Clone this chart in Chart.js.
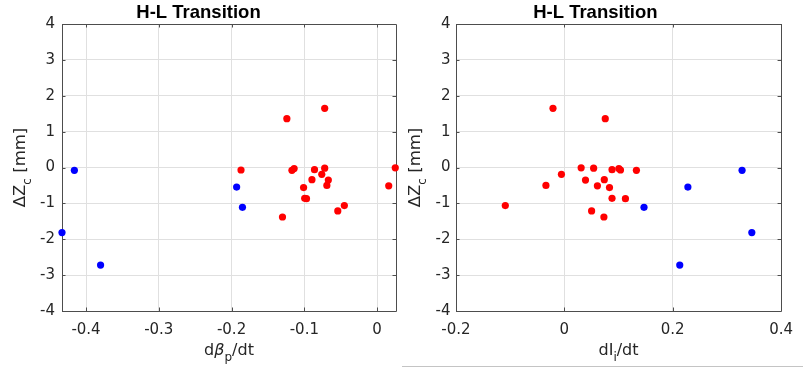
<!DOCTYPE html>
<html>
<head>
<meta charset="utf-8">
<script src="https://cdn.jsdelivr.net/npm/chart.js@4.4.1/dist/chart.umd.min.js"></script>
<style>
  html, body { margin: 0; padding: 0; background: #ffffff; }
  #wrap { position: relative; width: 803px; height: 370px; overflow: hidden; background: #fff; }
  #cL { position: absolute; left: 0; top: 0; }
  #cR { position: absolute; left: 400px; top: 0; }
  #rule { position: absolute; left: 402px; top: 366px; width: 401px; height: 1px; background: #c4c4c4; }
</style>
</head>
<body>
<div id="wrap">
  <canvas id="cL" width="400" height="370"></canvas>
  <canvas id="cR" width="403" height="370"></canvas>
  <div id="rule"></div>
</div>
<script>
// ---- data ----
const titleText = 'H-L Transition';
// ΔZc [mm] for the red (ordinary) events and blue events; shared by both panels
const redZc  = [1.65, 1.36, -0.01, -0.02, -0.03, -0.06, -0.07, -0.08, -0.19, -0.34, -0.35, -0.50, -0.51, -0.56, -0.86, -0.87, -1.06, -1.21, -1.38];
const redDbp = [-0.072, -0.124, 0.025, -0.072, -0.114, -0.086, -0.187, -0.117, -0.076, -0.0895, -0.067, -0.069, 0.016, -0.101, -0.0995, -0.097, -0.045, -0.054, -0.130];
const redDli = [-0.021, 0.0755, 0.031, 0.054, 0.1006, 0.088, 0.1036, 0.133, -0.0054, 0.0737, 0.039, -0.034, 0.061, 0.0833, 0.088, 0.1127, -0.109, 0.0503, 0.073];
const blueZc  = [-0.08, -0.545, -1.11, -1.815, -2.72];
const blueDbp = [-0.416, -0.193, -0.185, -0.433, -0.380];
const blueDli = [0.328, 0.228, 0.147, 0.346, 0.213];

// axis limits and tick labels
const leftXLimits = [-0.433, 0.026];
const leftXTicks = [-0.4, -0.3, -0.2, -0.1, 0];
const leftXTickLabels = ['-0.4', '-0.3', '-0.2', '-0.1', '0'];
const rightXLimits = [-0.2, 0.4];
const rightXTicks = [-0.2, 0, 0.2, 0.4];
const rightXTickLabels = ['-0.2', '0', '0.2', '0.4'];
const yLimits = [-4, 4];
const yTicks = [-4, -3, -2, -1, 0, 1, 2, 3, 4];
const yTickLabels = ['-4', '-3', '-2', '-1', '0', '1', '2', '3', '4'];

const RED = '#ff0000', BLUE = '#0000ff';
const TEXT = '#262626';
const GRID = '#e0e0e0';
const BOX = '#4d4d4d';
const TICK_FONT = { family: "'DejaVu Sans', sans-serif", size: 15 };
const LABEL_FAMILY = "'DejaVu Sans', sans-serif";

function pts(xs, ys) { return xs.map((x, i) => ({ x: x, y: ys[i] })); }

// Draws box + inward tick marks (MATLAB style) behind the markers,
// and the axis labels with subscripts.
function makeDecor(xParts, yLabelX, xLabelY) {
  return {
    id: 'decor',
    beforeDatasetsDraw(chart) {
      const ctx = chart.ctx, a = chart.chartArea;
      const xs = chart.scales.x, ys = chart.scales.y;
      ctx.save();
      ctx.strokeStyle = BOX;
      ctx.lineWidth = 1;
      ctx.beginPath();
      ctx.rect(Math.round(a.left) + 0.5, Math.round(a.top) + 0.5, Math.round(a.right - a.left), Math.round(a.bottom - a.top));
      ctx.stroke();
      const tl = 3.5;
      ctx.beginPath();
      xs.ticks.forEach(t => {
        const px = Math.round(xs.getPixelForValue(t.value)) + 0.5;
        ctx.moveTo(px, a.bottom); ctx.lineTo(px, a.bottom - tl);
        ctx.moveTo(px, a.top); ctx.lineTo(px, a.top + tl);
      });
      ys.ticks.forEach(t => {
        const py = Math.round(ys.getPixelForValue(t.value)) + 0.5;
        ctx.moveTo(a.left, py); ctx.lineTo(a.left + tl, py);
        ctx.moveTo(a.right, py); ctx.lineTo(a.right - tl, py);
      });
      ctx.stroke();
      ctx.restore();
    },
    afterDraw(chart) {
      const ctx = chart.ctx, a = chart.chartArea;
      ctx.save();
      ctx.fillStyle = TEXT;
      // x label
      drawParts(ctx, xParts, (a.left + a.right) / 2, xLabelY, 16);
      // y label rotated
      ctx.translate(yLabelX, (a.top + a.bottom) / 2);
      ctx.rotate(-Math.PI / 2);
      drawParts(ctx, [{ t: 'ΔZ' }, { t: 'c', sub: true }, { t: ' [mm]' }], 0, 0, 16.5);
      ctx.restore();
    }
  };
}

function partFont(p, size) {
  const s = p.sub ? Math.round(size * 0.72) : size;
  return (p.italic ? 'italic ' : '') + s + 'px ' + LABEL_FAMILY;
}
function drawParts(ctx, parts, cx, baseY, size) {
  let total = 0;
  parts.forEach(p => { ctx.font = partFont(p, size); p.w = ctx.measureText(p.t).width; total += p.w; });
  let x = cx - total / 2;
  ctx.textBaseline = 'alphabetic';
  ctx.textAlign = 'left';
  parts.forEach(p => {
    ctx.font = partFont(p, size);
    ctx.fillText(p.t, x, baseY + (p.sub ? size * 0.38 : 0));
    x += p.w;
  });
}

function makeChart(canvasId, opts) {
  const tickMap = (vals, labels) => (v) => {
    const i = vals.findIndex(t => Math.abs(t - v) < 1e-9);
    return i >= 0 ? labels[i] : '';
  };
  return new Chart(document.getElementById(canvasId), {
    type: 'scatter',
    data: {
      datasets: [
        { label: 'red', data: pts(opts.redX, redZc), backgroundColor: RED, borderWidth: 0, pointRadius: 3.6, clip: false },
        { label: 'blue', data: pts(opts.blueX, blueZc), backgroundColor: BLUE, borderWidth: 0, pointRadius: 3.6, clip: false }
      ]
    },
    options: {
      responsive: false,
      animation: false,
      devicePixelRatio: 1,
      layout: { padding: { left: 0, right: opts.padRight, top: 0, bottom: 0 } },
      plugins: {
        legend: { display: false },
        tooltip: { enabled: false },
        title: {
          display: true, text: titleText, color: '#000',
          font: { family: "'Liberation Sans', Arial, sans-serif", size: 18.5, weight: 'bold', lineHeight: 1.2 },
          padding: { top: 1.8, bottom: 0 }
        }
      },
      scales: {
        x: {
          type: 'linear', min: opts.xLimits[0], max: opts.xLimits[1],
          afterBuildTicks: s => { s.ticks = opts.xTicks.map(v => ({ value: v })); },
          afterFit: s => { s.height = 59; },
          grid: { color: GRID, drawTicks: false, lineWidth: 1 },
          border: { display: false },
          ticks: { color: TEXT, font: TICK_FONT, padding: 10, maxRotation: 0, autoSkip: false, callback: tickMap(opts.xTicks, opts.xTickLabels) }
        },
        y: {
          type: 'linear', min: yLimits[0], max: yLimits[1],
          afterBuildTicks: s => { s.ticks = yTicks.map(v => ({ value: v })); },
          afterFit: s => { s.width = opts.yWidth; },
          grid: { color: GRID, drawTicks: false, lineWidth: 1 },
          border: { display: false },
          ticks: { color: TEXT, font: TICK_FONT, padding: opts.yPad, autoSkip: false, callback: tickMap(yTicks, yTickLabels) }
        }
      }
    },
    plugins: [makeDecor(opts.xParts, opts.yLabelX, 355)]
  });
}

makeChart('cL', {
  redX: redDbp, blueX: blueDbp, xLimits: leftXLimits, xTicks: leftXTicks, xTickLabels: leftXTickLabels,
  padRight: 3, yWidth: 62, yPad: 7, yLabelX: 25,
  xParts: [{ t: 'd' }, { t: 'β', italic: true }, { t: 'p', sub: true }, { t: '/dt' }]
});
makeChart('cR', {
  redX: redDli, blueX: blueDli, xLimits: rightXLimits, xTicks: rightXTicks, xTickLabels: rightXTickLabels,
  padRight: 12.3, yWidth: 56, yPad: 5.5, yLabelX: 20,
  xParts: [{ t: 'dI' }, { t: 'i', sub: true }, { t: '/dt' }]
});
</script>
</body>
</html>
